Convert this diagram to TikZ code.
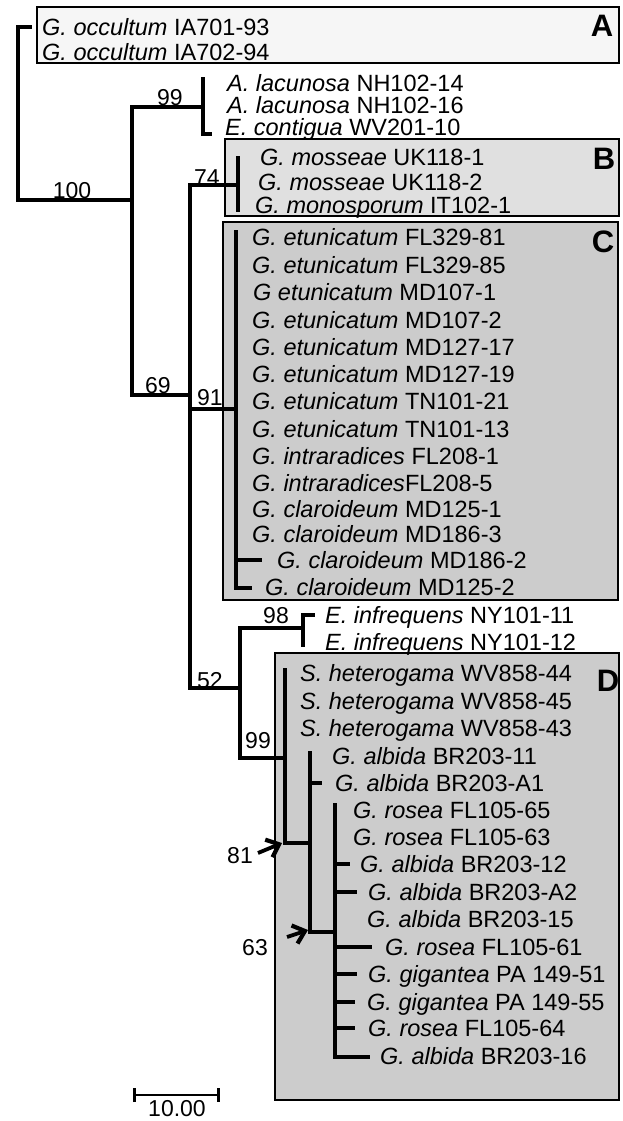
\documentclass[tikz,border=0pt]{standalone}
\usepackage{fontspec}
\setmainfont{Liberation Sans}
\usepackage{tikz}
\usetikzlibrary{arrows.meta,calc}
\tikzset{
  taxon/.style={anchor=west, inner sep=0pt, text height=16.8pt, text depth=0pt,
                font=\fontsize{23.5}{28}\selectfont},
  soporte/.style={inner sep=0pt, text height=16.8pt, text depth=0pt,
                  font=\fontsize{23}{28}\selectfont},
  letra/.style={inner sep=0pt, font=\fontsize{31}{36}\selectfont\bfseries},
  rama/.style={line width=4.6pt, line cap=rect},
  ramita/.style={line width=3.6pt, line cap=rect},
  caja/.style={draw=black, line width=2.2pt},
  flecha/.style={-{Straight Barb[length=11pt,width=19pt,line width=4.2pt]}, line width=3.8pt},
  escala/.style={{Bar[width=14pt,line width=3.4pt]}-{Bar[width=14pt,line width=3.4pt]}, line width=2.8pt}
}

\begin{document}
\begin{tikzpicture}[x=1pt,y=-1pt]
  \useasboundingbox (0,0) rectangle (622,1121);

  % clade boxes
  \draw[caja, fill=gray!7]  (37,7)    rectangle (619,63);
  \draw[caja, fill=gray!24] (225,139) rectangle (619,216);
  \draw[caja, fill=gray!40] (223,222) rectangle (618,600);
  \draw[caja, fill=gray!40] (275,653) rectangle (619,1100);
  \node[letra] (lA) at (602,26)  {A};
  \node[letra] (lB) at (604,159) {B};
  \node[letra] (lC) at (603,242) {C};
  \node[letra] (lD) at (608,681) {D};

  % taxa
  \node[taxon] (a1) at (42,27) {\textit{G. occultum} IA701-93};
  \node[taxon] (a2) at (42,52) {\textit{G. occultum} IA702-94};
  \node[taxon] (l1) at (227,83)  {\textit{A. lacunosa} NH102-14};
  \node[taxon] (l2) at (227,105) {\textit{A. lacunosa} NH102-16};
  \node[taxon] (l3) at (225,127) {\textit{E. contigua} WV201-10};
  \node[taxon] (b1) at (260,157) {\textit{G. mosseae} UK118-1};
  \node[taxon] (b2) at (258,182) {\textit{G. mosseae} UK118-2};
  \node[taxon] (b3) at (255,205) {\textit{G. monosporum} IT102-1};
  \node[taxon] (c1) at (252,237) {\textit{G. etunicatum} FL329-81};
  \node[taxon] (c2) at (252,265) {\textit{G. etunicatum} FL329-85};
  \node[taxon] (c3) at (253,292) {\textit{G etunicatum} MD107-1};
  \node[taxon] (c4) at (252,320) {\textit{G. etunicatum} MD107-2};
  \node[taxon] (c5) at (252,347) {\textit{G. etunicatum} MD127-17};
  \node[taxon] (c6) at (252,374) {\textit{G. etunicatum} MD127-19};
  \node[taxon] (c7) at (252,401) {\textit{G. etunicatum} TN101-21};
  \node[taxon] (c8) at (252,429) {\textit{G. etunicatum} TN101-13};
  \node[taxon] (c9) at (252,456) {\textit{G. intraradices} FL208-1};
  \node[taxon] (c10) at (252,483) {\textit{G. intraradices}FL208-5};
  \node[taxon] (c11) at (252,509) {\textit{G. claroideum} MD125-1};
  \node[taxon] (c12) at (252,534) {\textit{G. claroideum} MD186-3};
  \node[taxon] (c13) at (277,560) {\textit{G. claroideum} MD186-2};
  \node[taxon] (c14) at (265,587) {\textit{G. claroideum} MD125-2};
  \node[taxon] (e1) at (325,615) {\textit{E. infrequens} NY101-11};
  \node[taxon] (e2) at (325,642) {\textit{E. infrequens} NY101-12};
  \node[taxon] (d1) at (300,673) {\textit{S. heterogama} WV858-44};
  \node[taxon] (d2) at (300,701) {\textit{S. heterogama} WV858-45};
  \node[taxon] (d3) at (300,728) {\textit{S. heterogama} WV858-43};
  \node[taxon] (d4) at (332,756) {\textit{G. albida} BR203-11};
  \node[taxon] (d5) at (335,783) {\textit{G. albida} BR203-A1};
  \node[taxon] (d6) at (353,810) {\textit{G. rosea} FL105-65};
  \node[taxon] (d7) at (353,837) {\textit{G. rosea} FL105-63};
  \node[taxon] (d8) at (360,864) {\textit{G. albida} BR203-12};
  \node[taxon] (d9) at (368,892) {\textit{G. albida} BR203-A2};
  \node[taxon] (d10) at (367,919) {\textit{G. albida} BR203-15};
  \node[taxon] (d11) at (385,947) {\textit{G. rosea} FL105-61};
  \node[taxon] (d12) at (368,974) {\textit{G. gigantea} PA 149-51};
  \node[taxon] (d13) at (367,1002) {\textit{G. gigantea} PA 149-55};
  \node[taxon] (d14) at (368,1028) {\textit{G. rosea} FL105-64};
  \node[taxon] (d15) at (380,1056) {\textit{G. albida} BR203-16};

  % internal nodes
  \coordinate (raiz) at (18,200);
  \coordinate (cA)   at (30,27);
  \coordinate (n100) at (132,200);
  \coordinate (n99a) at (203,107);
  \coordinate (t99a) at (203,79);
  \coordinate (b99a) at (210,134);
  \coordinate (n69)  at (190,395);
  \coordinate (n74)  at (238,185);
  \coordinate (t74)  at (238,158);
  \coordinate (b74)  at (238,210);
  \coordinate (n91)  at (236,409);
  \coordinate (t91)  at (236,232);
  \coordinate (b91)  at (250,588);
  \coordinate (n52)  at (240,688);
  \coordinate (n98)  at (303,628);
  \coordinate (t98)  at (313,615);
  \coordinate (b98)  at (303,645);
  \coordinate (n99b) at (285,758);
  \coordinate (t99b) at (285,670);
  \coordinate (n81)  at (310,843);
  \coordinate (t81)  at (310,753);
  \coordinate (n63)  at (335,932);
  \coordinate (t63)  at (335,805);
  \coordinate (b63)  at (368,1057);

  % branches
  \draw[rama] (cA) -| (raiz) -- (n100);
  \draw[rama] (n99a) -| (n100) |- (n69);
  \draw[rama] (t99a) |- (b99a);
  \draw[ramita] (n74) -| (n69) |- (n52);
  \draw[ramita] (t74) -- (b74);
  \draw[ramita] (n91) -- (n91 -| n69);
  \draw[rama] (t91) |- (b91);
  \draw[ramita] (c13.west -| t91) -- ++(24,0);
  \draw[rama] (n98) -| (n52) |- (n99b);
  \draw[rama] (t98) -| (b98);
  \draw[ramita] (t99b) |- (n81);
  \draw[ramita] (t81) |- (n63);
  \draw[ramita] (d5.west -| t81) -- ++(10,0);
  \draw[ramita] (t63) |- (b63);
  \draw[ramita] (d8.west -| t63) -- ++(13,0);
  \draw[ramita] (d9.west -| t63) -- ++(20,0);
  \draw[ramita] (d11.west -| t63) -- ++(35,0);
  \draw[ramita] (d12.west -| t63) -- ++(20,0);
  \draw[ramita] (d13.west -| t63) -- ++(18,0);
  \draw[ramita] (d14.west -| t63) -- ++(18,0);

  % bootstrap values
  \node[soporte] (s100) at (72,190)  {100};
  \node[soporte] (s99a) at (170,97)  {99};
  \node[soporte] (s74)  at (207,177) {74};
  \node[soporte] (s69)  at (158,385) {69};
  \node[soporte] (s91)  at (210,397) {91};
  \node[soporte] (s98)  at (276,615) {98};
  \node[soporte] (s52)  at (210,680) {52};
  \node[soporte] (s99b) at (258,740) {99};
  \node[soporte] (s81)  at (240,855) {81};
  \node[soporte] (s63)  at (255,947) {63};
  \coordinate (f81) at (258,853);
  \coordinate (p81) at (282,843);
  \coordinate (f63) at (287,937);
  \coordinate (p63) at (308,930);
  \draw[flecha] (f81) -- (p81);
  \draw[flecha] (f63) -- (p63);

  % scale bar
  \coordinate (escI) at (133,1095);
  \coordinate (escD) at (220,1095);
  \draw[escala] (escI) -- (escD);
  \node[soporte] (esc) at (177,1108) {10.00};
\end{tikzpicture}
\end{document}
